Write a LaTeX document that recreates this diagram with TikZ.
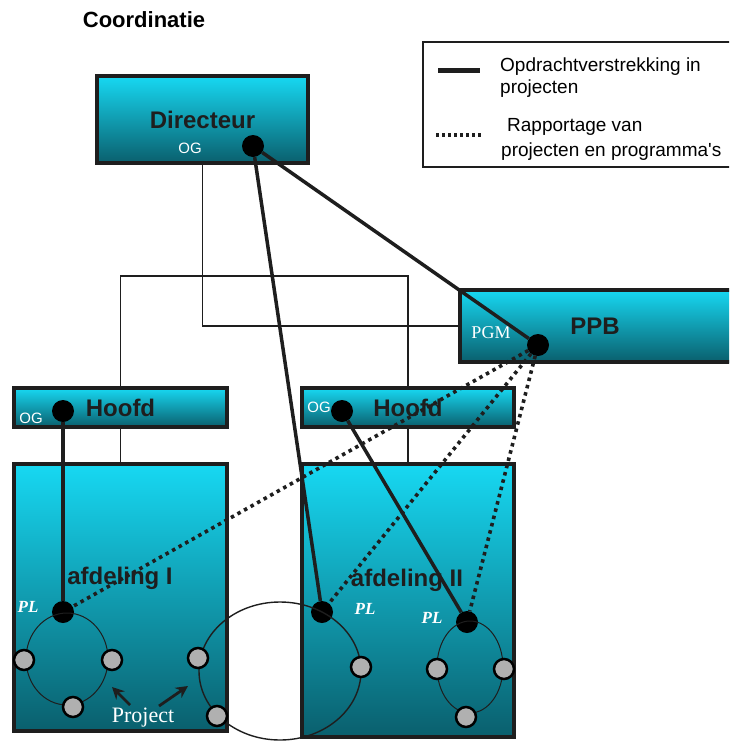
\documentclass[tikz,border=0pt]{standalone}
\usepackage{xcolor}
\usepackage{fontspec}
\setmainfont{Liberation Sans}
\newfontfamily\serifface{Liberation Serif}
\usetikzlibrary{shapes,arrows,arrows.meta,positioning,calc}

\definecolor{boxtop}{HTML}{17D8F2}
\definecolor{boxbottom}{HTML}{0A5F6D}
\definecolor{edge}{HTML}{1E1E1E}
\definecolor{membergrey}{HTML}{B0B0B0}

\begin{document}
\begin{tikzpicture}[
    x=1pt, y=-1pt,
    unit/.style={rectangle, draw=edge, line width=4pt, top color=boxtop, bottom color=boxbottom, inner sep=0pt},
    title/.style={font=\fontsize{24}{28}\selectfont\bfseries, text=edge, inner sep=0pt},
    role/.style={font=\fontsize{15}{18}\selectfont, text=white, inner sep=0pt},
    pl/.style={font=\serifface\fontsize{17}{20}\selectfont\bfseries\itshape, text=white, inner sep=0pt},
    lead/.style={circle, fill=black, minimum size=22pt, inner sep=0pt},
    member/.style={circle, draw=black, line width=2.5pt, fill=membergrey, minimum size=20pt, inner sep=0pt},
    ring/.style={draw=edge, line width=1pt},
    orgline/.style={draw=edge, line width=1.6pt},
    order/.style={draw=edge, line width=3.5pt},
    report/.style={draw=edge, line width=3.6pt, dash pattern=on 3.5pt off 4pt},
    pointer/.style={draw=edge, line width=2.8pt, -{Stealth[length=12pt,width=12pt]}},
    legendbox/.style={rectangle, draw=edge, line width=2.5pt, fill=white},
    legendtext/.style={anchor=west, align=left, inner sep=0pt}
]
\useasboundingbox (0,0) rectangle (729,742);
\clip (0,0) rectangle (729,742);

\node[font=\fontsize{22}{26}\selectfont\bfseries, inner sep=0pt] (heading) at (144,20) {Coordinatie};

\node[legendbox, minimum width=322pt, minimum height=125pt] (legend) at (584,104.5) {};
\draw[order, line width=5pt] (438,70) -- (480,70);
\draw[report, line width=3.5pt, dash pattern=on 3pt off 3pt] (436,135) -- (483,135);
\node[legendtext, font=\fontsize{19}{22}\selectfont] (legOrder) at (500,78) {Opdrachtverstrekking in\\projecten};
\node[legendtext, font=\fontsize{19}{25}\selectfont] (legReport) at (501,139.5) {\hspace{6pt}Rapportage van\\projecten en programma\textquotesingle s};

\node[unit, minimum width=211pt, minimum height=87pt, title] (dir) at (202.5,119.5) {Directeur};
\node[unit, minimum width=282pt, minimum height=72pt] (ppb) at (601,326) {};
\node[title] (ppblabel) at (595,326) {PPB};
\node[unit, minimum width=213pt, minimum height=39pt, title] (hoofdA) at (120.5,407.5) {Hoofd};
\node[unit, minimum width=212pt, minimum height=39pt, title] (hoofdB) at (408,407.5) {Hoofd};
\node[unit, minimum width=213pt, minimum height=267pt] (afdI) at (120.5,597.5) {};
\node[unit, minimum width=212pt, minimum height=273pt] (afdII) at (408,600.5) {};
\node[title] (afdIlabel) at (120,578) {afdeling I};
\node[title] (afdIIlabel) at (407,580) {afdeling II};

\coordinate (bus) at (0,276);
\draw[orgline] (dir.south) |- (ppb.west);
\draw[orgline] (hoofdA.north) -- (hoofdA.north |- bus) -- (hoofdB.north |- bus) -- (hoofdB.north);
\draw[orgline] (hoofdA.south) -- (afdI.north);
\draw[orgline] (hoofdB.south) -- (afdII.north);

\node[role] (ogDir) at (190,148) {OG};
\node[role] (ogA) at (31,418) {OG};
\node[role] (ogB) at (319,407) {OG};
\node[role, font=\serifface\fontsize{18}{20}\selectfont] (pgm) at (491,333) {PGM};
\node[pl] (plAlabel) at (28,607) {PL};
\node[pl] (plBlabel) at (365,609) {PL};
\node[pl] (plClabel) at (432,618) {PL};

\node[lead] (dirdot) at (253,146) {};
\node[lead] (ppbdot) at (538,345) {};
\node[lead] (hoofdAdot) at (63,411) {};
\node[lead] (hoofdBdot) at (342,411) {};
\node[lead] (plA) at (63,612) {};
\node[lead] (plB) at (322,612) {};
\node[lead] (plC) at (467,622) {};

\draw[ring] (67,659) ellipse [x radius=41pt, y radius=46pt];
\draw[ring, line width=1.4pt] (280,671) ellipse [x radius=81pt, y radius=69pt];
\draw[ring] (470,667) ellipse [x radius=33pt, y radius=46pt];

\node[member] (memA1) at (24,660) {};
\node[member] (memA2) at (112,660) {};
\node[member] (memA3) at (73,707) {};
\node[member] (memM1) at (198,658) {};
\node[member] (memM2) at (217,716) {};
\node[member] (memM3) at (361,667) {};
\node[member] (memC1) at (437,669) {};
\node[member] (memC2) at (504,669) {};
\node[member] (memC3) at (466,717) {};

\draw[order] (dirdot) -- (ppbdot);
\draw[order] (dirdot) -- (plB);
\draw[order] (hoofdAdot) -- (plA);
\draw[order] (hoofdBdot) -- (plC);
\draw[report] (ppbdot) -- (plA);
\draw[report] (ppbdot) -- (plB);
\draw[report] (ppbdot) -- (plC);

\node[font=\serifface\fontsize{22}{24}\selectfont, text=white, inner sep=0pt] (project) at (143,718) {Project};
\coordinate (ptrLtail) at (130,705);
\coordinate (ptrLhead) at (112,687);
\coordinate (ptrRtail) at (159,706);
\coordinate (ptrRhead) at (188,686);
\draw[pointer] (ptrLtail) -- (ptrLhead);
\draw[pointer] (ptrRtail) -- (ptrRhead);

\end{tikzpicture}
\end{document}
